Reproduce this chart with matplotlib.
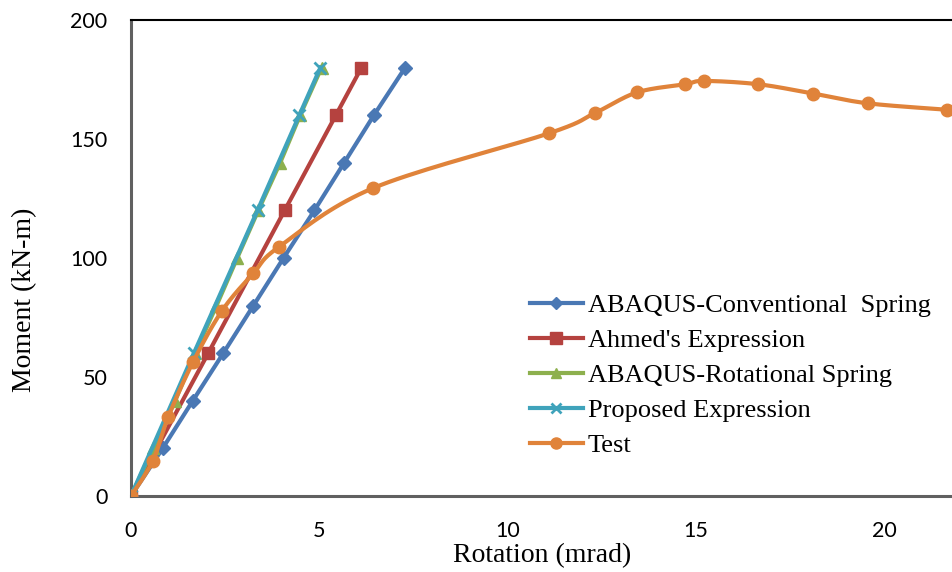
import numpy as np
import matplotlib
matplotlib.use("Agg")
import matplotlib.pyplot as plt
from matplotlib.lines import Line2D

# ---- data ----
conv_x = [0, 0.84, 1.64, 2.45, 3.25, 4.05, 4.87, 5.66, 6.45, 7.28]
conv_y = [0, 20, 40, 60, 80, 100, 120, 140, 160, 180]

ahmed_x = [0, 2.05, 4.08, 5.44, 6.12]
ahmed_y = [0, 60, 120, 160, 180]

rot_x = [0, 0.59, 1.17, 1.70, 2.27, 2.82, 3.38, 3.96, 4.49, 5.06]
rot_y = [0, 20, 40, 60, 80, 100, 120, 140, 160, 180]

prop_x = [0, 1.67, 3.36, 4.47, 5.03]
prop_y = [0, 60, 120, 160, 180]

test_x = [0, 0.58, 0.99, 1.65, 2.42, 3.25, 3.94, 6.42, 11.10, 12.33, 13.44,
          14.71, 15.22, 16.66, 18.11, 19.56, 21.66]
test_y = [0, 14.8, 33.3, 56.4, 77.9, 93.6, 104.8, 129.3, 152.4, 161.0, 169.6,
          173.0, 174.4, 173.0, 169.1, 165.0, 162.3]

labels = ["ABAQUS-Conventional  Spring", "Ahmed's Expression",
          "ABAQUS-Rotational Spring", "Proposed Expression", "Test"]
x_ticks = [0, 5, 10, 15, 20]
y_ticks = [0, 50, 100, 150, 200]

c_blue, c_red, c_green, c_cyan, c_orange = "#4A78B4", "#B5423F", "#8DB04E", "#3FA3BB", "#E0833A"


def smooth(xs, ys, n=20, tension=0.5):
    """Catmull-Rom style smoothing for drawing the line (like Excel smoothed line)."""
    P = np.column_stack([xs, ys]).astype(float)
    out = [P[0]]
    for i in range(len(P) - 1):
        p0 = P[i - 1] if i > 0 else P[i]
        p1, p2 = P[i], P[i + 1]
        p3 = P[i + 2] if i + 2 < len(P) else P[i + 1]
        m1 = tension * (p2 - p0)
        m2 = tension * (p3 - p1)
        t = np.linspace(0, 1, n)[1:, None]
        h00 = 2 * t**3 - 3 * t**2 + 1
        h10 = t**3 - 2 * t**2 + t
        h01 = -2 * t**3 + 3 * t**2
        h11 = t**3 - t**2
        seg = h00 * p1 + h10 * m1 + h01 * p2 + h11 * m2
        out.extend(seg)
    out = np.array(out)
    return out[:, 0], out[:, 1]


fig = plt.figure(figsize=(9.53, 5.72), dpi=100)
ax = fig.add_axes([131 / 953, 1 - 496 / 572, 1 - 131 / 953, (496 - 20) / 572])

lw = 3.0
ax.plot(conv_x, conv_y, color=c_blue, lw=lw, marker="D", ms=7, zorder=3)
ax.plot(ahmed_x, ahmed_y, color=c_red, lw=lw, marker="s", ms=9, zorder=3)
ax.plot(rot_x, rot_y, color=c_green, lw=lw, marker="^", ms=8, zorder=3)
ax.plot(prop_x, prop_y, color=c_cyan, lw=lw, marker="x", ms=8, mew=2, zorder=4)
sx, sy = smooth(test_x, test_y)
ax.plot(sx, sy, color=c_orange, lw=lw, zorder=5)
ax.plot(test_x, test_y, ls="none", color=c_orange, marker="o", ms=9, zorder=5)

ax.set_xlim(0, (953 - 131) / 37.66)
ax.set_ylim(0, 200)
ax.set_xticks(x_ticks)
ax.set_yticks(y_ticks)
ax.tick_params(length=0, labelsize=15.5)
ax.tick_params(axis="x", pad=18)
ax.tick_params(axis="y", pad=17)
for t in ax.get_xticklabels() + ax.get_yticklabels():
    t.set_fontfamily(["Lato", "DejaVu Sans"])

for s in ["left", "bottom"]:
    ax.spines[s].set_color("#606060")
    ax.spines[s].set_linewidth(2.2)
ax.spines["top"].set_color("black")
ax.spines["top"].set_linewidth(1.5)
ax.spines["right"].set_visible(False)

ax.set_xlabel("Rotation (mrad)", fontsize=20, fontfamily="Liberation Serif")
ax.xaxis.set_label_coords(0.5, (496 - 556) / 476)
ax.xaxis.label.set_va("center")
ax.set_ylabel("Moment (kN-m)", fontsize=20, fontfamily="Liberation Serif")
ax.yaxis.set_label_coords((25 - 131) / 822, (496 - 300) / 476)
ax.yaxis.label.set_va("center")

handles = [
    Line2D([], [], color=c_blue, lw=lw, marker="D", ms=6),
    Line2D([], [], color=c_red, lw=lw, marker="s", ms=8),
    Line2D([], [], color=c_green, lw=lw, marker="^", ms=7),
    Line2D([], [], color=c_cyan, lw=lw, marker="x", ms=7, mew=2),
    Line2D([], [], color=c_orange, lw=lw, marker="o", ms=8),
]
ax.legend(handles, labels, loc="upper left",
          bbox_to_anchor=(530 / 953, 1 - 294 / 572), bbox_transform=fig.transFigure,
          frameon=False, borderpad=0, borderaxespad=0, handlelength=2.0,
          handletextpad=0.19, labelspacing=0.43,
          prop={"family": "Liberation Serif", "size": 19})

fig.savefig("out.png", dpi=100)
